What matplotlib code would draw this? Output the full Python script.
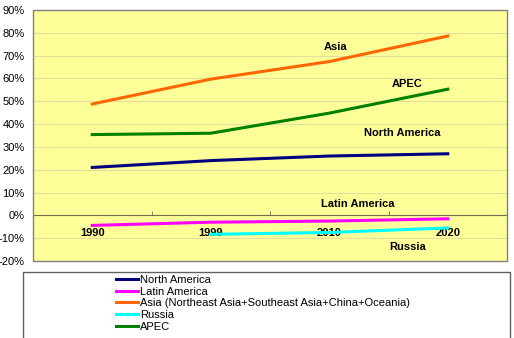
import matplotlib.pyplot as plt
from matplotlib.patches import Rectangle

plt.rcParams['font.family'] = ['Liberation Sans', 'DejaVu Sans']

years = ['1990', '1999', '2010', '2020']
north_america = [0.21, 0.24, 0.26, 0.27]
latin_america = [-0.044, -0.03, -0.025, -0.015]
asia = [0.488, 0.597, 0.674, 0.786]
russia = [None, -0.083, -0.075, -0.055]
apec = [0.354, 0.36, 0.448, 0.553]

series_names = ['North America', 'Latin America',
                'Asia (Northeast Asia+Southeast Asia+China+Oceania)', 'Russia', 'APEC']
series_colors = ['#000080', '#FF00FF', '#FF6600', '#00FFFF', '#008000']
series_values = [north_america, latin_america, asia, russia, apec]

fig = plt.figure(figsize=(5.14, 3.38), dpi=100)
ax = fig.add_axes([0.0642, 0.2278, 0.9222, 0.7426])
ax.set_facecolor('#FFFF99')

x = list(range(len(years)))
lines = []
for name, col, vals in zip(series_names, series_colors, series_values):
    xs = [i for i, v in zip(x, vals) if v is not None]
    ys = [v for v in vals if v is not None]
    ln, = ax.plot(xs, ys, color=col, lw=2.2, label=name, zorder=3)
    lines.append(ln)

ax.set_xlim(-0.5, 3.5)
ax.set_ylim(-0.2, 0.9)
yt = [i / 10 for i in range(-2, 10)]
ax.set_yticks(yt)
ax.set_yticklabels([f'{int(round(v * 100))}%' for v in yt], fontsize=8)
ax.tick_params(axis='y', length=0, pad=6)
ax.yaxis.grid(True, color='#E2DE9C', lw=0.8)
ax.set_axisbelow(True)

# zero line acts as the category axis
ax.spines['bottom'].set_position(('data', 0))
ax.spines['bottom'].set_color('#707050')
for s in ['top', 'left', 'right']:
    ax.spines[s].set_visible(False)
ax.add_patch(Rectangle((0, 0), 1, 1, transform=ax.transAxes, fill=False,
                       edgecolor='#808080', lw=1, zorder=5, clip_on=False))
ax.set_xticks(x)
ax.set_xticklabels(years, fontsize=8, fontweight='bold')
ax.tick_params(axis='x', which='major', length=0, pad=9)
ax.set_xticks([i + 0.5 for i in x[:-1]], minor=True)
ax.tick_params(axis='x', which='minor', direction='in', length=3, color='#707050')
for t in ax.get_xticklabels():
    t.set_zorder(6)

labels = ['Asia', 'APEC', 'North America', 'Latin America', 'Russia']
label_pos = [(2.05, 0.74), (2.66, 0.576), (2.62, 0.36), (2.24, 0.048), (2.66, -0.14)]
for txt, (lx, ly) in zip(labels, label_pos):
    ax.text(lx, ly, txt, fontsize=8, fontweight='bold', ha='center', va='center', zorder=6)

# legend box below the chart
fig.patches.append(Rectangle((23 / 514, -0.02), 487 / 514, 1 - 272 / 338 + 0.02,
                             transform=fig.transFigure, fill=False,
                             edgecolor='#606060', lw=1))
fig.legend(handles=lines, loc='upper left', bbox_to_anchor=(113 / 514, 1 - 272 / 338),
           frameon=False, fontsize=8, handlelength=2.0, handletextpad=0.2,
           labelspacing=0.16, borderaxespad=0, borderpad=0.25)

fig.savefig('out.png', dpi=100)
